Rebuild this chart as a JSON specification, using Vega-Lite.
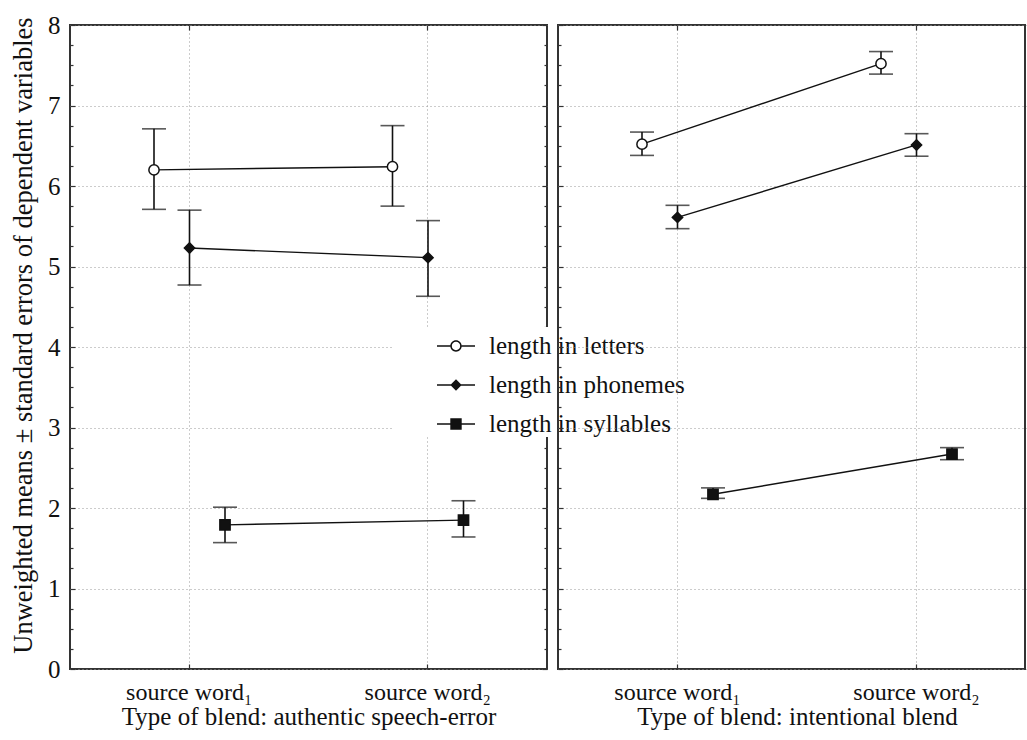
{
  "$schema": "https://vega.github.io/schema/vega-lite/v6.json",
  "padding": {"left": 9, "top": 12, "right": 0, "bottom": 0},
  "bounds": "flush",
  "spacing": 11,
  "background": "white",
  "resolve": {"scale": {"shape": "independent", "fill": "independent"}, "legend": {"shape": "independent", "fill": "independent"}},
  "config": {
    "font": "Liberation Serif",
    "view": {"stroke": "#333", "strokeWidth": 2},
    "axis": {"labelFont": "Liberation Serif", "titleFont": "Liberation Serif", "labelColor": "#111", "titleColor": "#111", "titleFontWeight": "normal", "domain": false, "tickColor": "#333", "tickWidth": 1.2, "gridColor": "#999", "gridDash": [1, 3], "gridWidth": 1},
    "legend": {"orient": "none", "title": null, "fillColor": "white", "padding": 0, "symbolOffset": 45, "symbolSize": 1444, "symbolFillColor": "#111", "symbolStrokeWidth": 0, "labelFont": "Liberation Serif", "labelFontSize": 25, "labelColor": "#111", "labelOffset": 14, "labelLimit": 400, "rowPadding": 7}
  },
  "datasets": {
    "d": [
      {"panel": "authentic", "word": "source word₁", "series": "length in letters", "mean": 6.20, "lo": 5.71, "hi": 6.71},
      {"panel": "authentic", "word": "source word₂", "series": "length in letters", "mean": 6.24, "lo": 5.75, "hi": 6.75},
      {"panel": "authentic", "word": "source word₁", "series": "length in phonemes", "mean": 5.23, "lo": 4.77, "hi": 5.70},
      {"panel": "authentic", "word": "source word₂", "series": "length in phonemes", "mean": 5.11, "lo": 4.63, "hi": 5.57},
      {"panel": "authentic", "word": "source word₁", "series": "length in syllables", "mean": 1.79, "lo": 1.57, "hi": 2.01},
      {"panel": "authentic", "word": "source word₂", "series": "length in syllables", "mean": 1.85, "lo": 1.64, "hi": 2.09},
      {"panel": "intentional", "word": "source word₁", "series": "length in letters", "mean": 6.52, "lo": 6.38, "hi": 6.67},
      {"panel": "intentional", "word": "source word₂", "series": "length in letters", "mean": 7.52, "lo": 7.39, "hi": 7.67},
      {"panel": "intentional", "word": "source word₁", "series": "length in phonemes", "mean": 5.61, "lo": 5.47, "hi": 5.76},
      {"panel": "intentional", "word": "source word₂", "series": "length in phonemes", "mean": 6.51, "lo": 6.37, "hi": 6.65},
      {"panel": "intentional", "word": "source word₁", "series": "length in syllables", "mean": 2.17, "lo": 2.12, "hi": 2.25},
      {"panel": "intentional", "word": "source word₂", "series": "length in syllables", "mean": 2.67, "lo": 2.60, "hi": 2.75}
    ]
  },
  "data": {"name": "d"},
  "hconcat": [
    {
      "width": 477,
      "height": 644,
      "transform": [{"filter": "datum.panel === 'authentic'"}],
      "resolve": {"axis": {"x": "independent", "y": "independent"}, "scale": {"shape": "independent", "fill": "independent"}},
      "layer": [
        {
          "mark": {"type": "rule", "color": "#111", "strokeWidth": 1.6},
          "encoding": {
            "x": {"field": "word", "type": "nominal", "sort": null, "scale": {"domain": ["source word₁", "source word₂"], "paddingInner": 0, "paddingOuter": 0},
                  "axis": {"orient": "bottom", "title": "Type of blend: authentic speech-error", "titleFontSize": 25, "titlePadding": 0, "labelFontSize": 24, "labelAngle": 0, "labelPadding": 16, "tickSize": -5, "bandPosition": 0.5, "grid": true}},
            "xOffset": {"field": "series", "type": "nominal", "sort": null, "scale": {"type": "point", "domain": ["length in letters", "length in phonemes", "length in syllables"], "range": [84, 155], "padding": 0}},
            "y": {"field": "lo", "type": "quantitative", "scale": {"domain": [0, 8], "nice": false},
                  "axis": {"orient": "left", "title": "Unweighted means ± standard errors of dependent variables", "titleFontSize": 26.5, "titlePadding": 10, "titleY": 310, "labelFontSize": 25, "labelPadding": 15, "values": [0, 1, 2, 3, 4, 5, 6, 7, 8], "tickSize": -5, "grid": true}},
            "y2": {"field": "hi"}
          }
        },
        {
          "mark": {"type": "tick", "color": "#111", "thickness": 1.6, "size": 24},
          "encoding": {
            "x": {"field": "word", "type": "nominal", "sort": null,
                  "axis": {"orient": "top", "title": null, "labels": false, "tickSize": -5, "bandPosition": 0.5, "grid": false}},
            "xOffset": {"field": "series", "type": "nominal", "sort": null},
            "y": {"field": "hi", "type": "quantitative",
                  "axis": {"orient": "left", "title": null, "labels": false, "grid": false, "tickSize": -3, "values": [0.25, 0.5, 0.75, 1.25, 1.5, 1.75, 2.25, 2.5, 2.75, 3.25, 3.5, 3.75, 4.25, 4.5, 4.75, 5.25, 5.5, 5.75, 6.25, 6.5, 6.75, 7.25, 7.5, 7.75]}}
          }
        },
        {
          "mark": {"type": "tick", "color": "#111", "thickness": 1.6, "size": 24},
          "encoding": {
            "x": {"field": "word", "type": "nominal", "sort": null, "axis": null},
            "xOffset": {"field": "series", "type": "nominal", "sort": null},
            "y": {"field": "lo", "type": "quantitative",
                  "axis": {"orient": "right", "title": null, "labels": false, "grid": false, "tickSize": -5, "values": [0, 1, 2, 3, 4, 5, 6, 7, 8]}}
          }
        },
        {
          "mark": {"type": "line", "color": "#111", "strokeWidth": 1.4},
          "encoding": {
            "x": {"field": "word", "type": "nominal", "sort": null, "axis": null},
            "xOffset": {"field": "series", "type": "nominal", "sort": null},
            "detail": {"field": "series"},
            "y": {"field": "mean", "type": "quantitative",
                  "axis": {"orient": "right", "title": null, "labels": false, "grid": false, "tickSize": -3, "values": [0.25, 0.5, 0.75, 1.25, 1.5, 1.75, 2.25, 2.5, 2.75, 3.25, 3.5, 3.75, 4.25, 4.5, 4.75, 5.25, 5.5, 5.75, 6.25, 6.5, 6.75, 7.25, 7.5, 7.75]}}
          }
        },
        {
          "mark": {"type": "point", "stroke": "#111", "strokeWidth": 1.5, "opacity": 1, "filled": false, "size": 105},
          "encoding": {
            "x": {"field": "word", "type": "nominal", "sort": null, "axis": null},
            "xOffset": {"field": "series", "type": "nominal", "sort": null},
            "y": {"field": "mean", "type": "quantitative", "axis": null},
            "shape": {"field": "series", "type": "nominal", "sort": null, "scale": {"domain": ["length in letters", "length in phonemes", "length in syllables"], "range": ["circle", "diamond", "square"]}, "legend": null},
            "fill": {"field": "series", "type": "nominal", "sort": null, "scale": {"domain": ["length in letters", "length in phonemes", "length in syllables"], "range": ["white", "#111", "#111"]}, "legend": null}
          }
        },
        {
          "transform": [{"filter": "false"}],
          "mark": {"type": "point", "filled": true, "color": "#111", "strokeWidth": 0, "opacity": 1},
          "encoding": {
            "shape": {"field": "series", "type": "nominal", "sort": null,
                      "scale": {"domain": ["length in letters", "length in phonemes", "length in syllables"],
                                "range": ["M-1,-0.035H-0.3V0.035H-1ZM0.3,-0.035H1V0.035H0.3ZM-0.3,0A0.3,0.3,0,1,1,0.3,0A0.3,0.3,0,1,1,-0.3,0ZM-0.22,0A0.22,0.22,0,1,0,0.22,0A0.22,0.22,0,1,0,-0.22,0Z",
                                          "M-1,-0.035H1V0.035H-1ZM0,-0.3L0.3,0L0,0.3L-0.3,0Z",
                                          "M-1,-0.035H1V0.035H-1ZM-0.3,-0.3H0.3V0.3H-0.3Z"]},
                      "legend": {"orient": "none", "legendX": 322, "legendY": 302}}
          }
        }
      ]
    },
    {
      "width": 467,
      "height": 644,
      "transform": [{"filter": "datum.panel === 'intentional'"}],
      "resolve": {"axis": {"x": "independent", "y": "independent"}},
      "layer": [
        {
          "mark": {"type": "rule", "color": "#111", "strokeWidth": 1.6},
          "encoding": {
            "x": {"field": "word", "type": "nominal", "sort": null, "scale": {"domain": ["source word₁", "source word₂"], "paddingInner": 0, "paddingOuter": 0, "range": [0, 478]},
                  "axis": {"orient": "bottom", "title": "Type of blend: intentional blend", "titleFontSize": 25, "titlePadding": 0, "labelFontSize": 24, "labelAngle": 0, "labelPadding": 16, "tickSize": -5, "bandPosition": 0.5, "grid": true}},
            "xOffset": {"field": "series", "type": "nominal", "sort": null, "scale": {"type": "point", "domain": ["length in letters", "length in phonemes", "length in syllables"], "range": [84, 155], "padding": 0}},
            "y": {"field": "lo", "type": "quantitative", "scale": {"domain": [0, 8], "nice": false},
                  "axis": {"orient": "left", "title": null, "labels": false, "values": [0, 1, 2, 3, 4, 5, 6, 7, 8], "tickSize": -5, "grid": true}},
            "y2": {"field": "hi"}
          }
        },
        {
          "mark": {"type": "tick", "color": "#111", "thickness": 1.6, "size": 24},
          "encoding": {
            "x": {"field": "word", "type": "nominal", "sort": null,
                  "axis": {"orient": "top", "title": null, "labels": false, "tickSize": -5, "bandPosition": 0.5, "grid": false}},
            "xOffset": {"field": "series", "type": "nominal", "sort": null},
            "y": {"field": "hi", "type": "quantitative",
                  "axis": {"orient": "left", "title": null, "labels": false, "grid": false, "tickSize": -3, "values": [0.25, 0.5, 0.75, 1.25, 1.5, 1.75, 2.25, 2.5, 2.75, 3.25, 3.5, 3.75, 4.25, 4.5, 4.75, 5.25, 5.5, 5.75, 6.25, 6.5, 6.75, 7.25, 7.5, 7.75]}}
          }
        },
        {
          "mark": {"type": "tick", "color": "#111", "thickness": 1.6, "size": 24},
          "encoding": {
            "x": {"field": "word", "type": "nominal", "sort": null, "axis": null},
            "xOffset": {"field": "series", "type": "nominal", "sort": null},
            "y": {"field": "lo", "type": "quantitative", "axis": null}
          }
        },
        {
          "mark": {"type": "line", "color": "#111", "strokeWidth": 1.4},
          "encoding": {
            "x": {"field": "word", "type": "nominal", "sort": null, "axis": null},
            "xOffset": {"field": "series", "type": "nominal", "sort": null},
            "detail": {"field": "series"},
            "y": {"field": "mean", "type": "quantitative", "axis": null}
          }
        },
        {
          "mark": {"type": "point", "stroke": "#111", "strokeWidth": 1.5, "opacity": 1, "filled": false, "size": 105},
          "encoding": {
            "x": {"field": "word", "type": "nominal", "sort": null, "axis": null},
            "xOffset": {"field": "series", "type": "nominal", "sort": null},
            "y": {"field": "mean", "type": "quantitative", "axis": null},
            "shape": {"field": "series", "type": "nominal", "sort": null, "scale": {"domain": ["length in letters", "length in phonemes", "length in syllables"], "range": ["circle", "diamond", "square"]}, "legend": null},
            "fill": {"field": "series", "type": "nominal", "sort": null, "scale": {"domain": ["length in letters", "length in phonemes", "length in syllables"], "range": ["white", "#111", "#111"]}, "legend": null}
          }
        }
      ]
    }
  ]
}
